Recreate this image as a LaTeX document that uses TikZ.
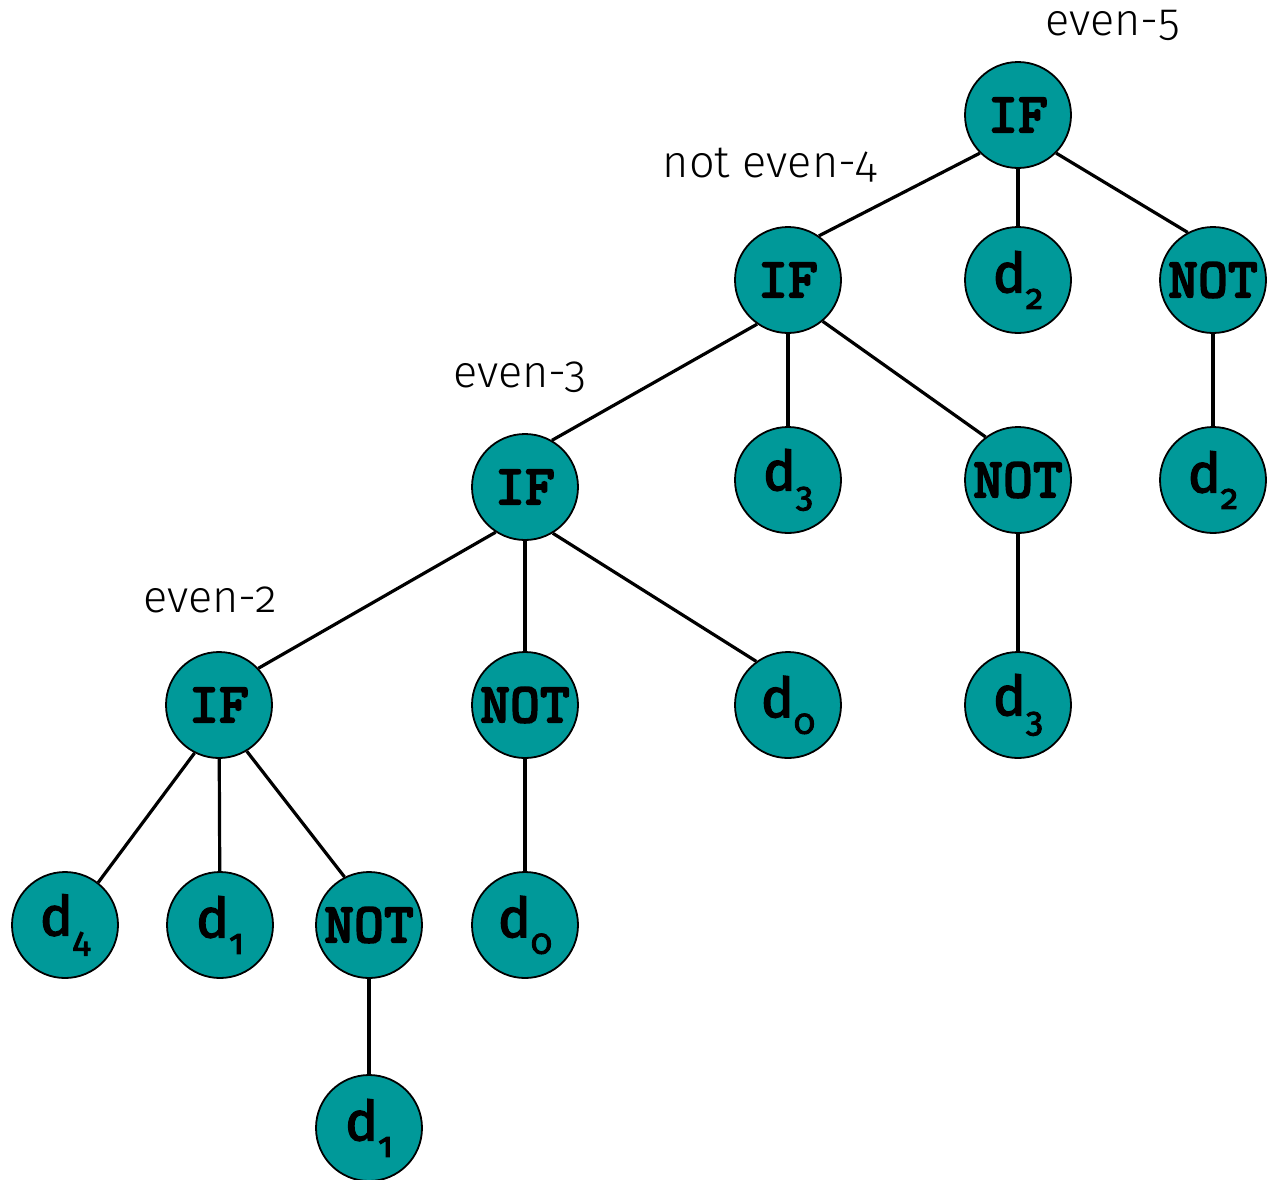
\documentclass[tikz,border=0pt]{standalone}
\usepackage{fontspec}
\setmainfont{Fira Sans}[Numbers=OldStyle]
\newfontfamily\lightfont{Fira Sans Light}[Numbers=OldStyle]
\newfontfamily\dfont{Fira Sans}[Numbers=OldStyle,FakeBold=2.5]
\newfontfamily\codefont{lmmonolt10-bold.otf}[FakeBold=2.5]
\definecolor{teal}{RGB}{0,153,153}
\newcommand{\dvar}[1]{\dfont\fontsize{55}{55}\selectfont d\raisebox{-0.3em}{\fontsize{35}{35}\selectfont #1}}
\begin{document}
\begin{tikzpicture}[x=1pt,y=-1pt,
  tnode/.style={circle,draw=black,line width=1.8pt,fill=teal,minimum size=106pt,inner sep=0pt},
  opnode/.style={tnode,font=\codefont\fontsize{57}{57}\selectfont},
  varnode/.style={tnode},
  lab/.style={font=\lightfont\fontsize{45}{45}\selectfont,inner sep=0pt},
  edge/.style={line width=3.2pt}]
\useasboundingbox (0,0) rectangle (1268,1179);
% nodes
\node[opnode] (r)  at (1018,115) {IF};
\node[opnode] (a)  at (788,280) {IF};
\node[varnode] (b) at (1018,280) {\dvar{2}};
\node[opnode] (c)  at (1213,280) {NOT};
\node[opnode] (a1) at (525,487) {IF};
\node[varnode] (a2) at (788,480) {\dvar{3}};
\node[opnode] (a3) at (1018,480) {NOT};
\node[varnode] (c1) at (1213,480) {\dvar{2}};
\node[opnode] (e)  at (219,705) {IF};
\node[opnode] (f)  at (525,705) {NOT};
\node[varnode] (g) at (788,705) {\dvar{0}};
\node[varnode] (a31) at (1018,705) {\dvar{3}};
\node[varnode] (e1) at (65,925) {\dvar{4}};
\node[varnode] (e2) at (220,925) {\dvar{1}};
\node[opnode] (e3) at (369,925) {NOT};
\node[varnode] (f1) at (525,925) {\dvar{0}};
\node[varnode] (e31) at (369,1128) {\dvar{1}};
% labels
\node[lab] (l5) at (1113,25) {even-5};
\node[lab] (l4) at (770,165) {not even-4};
\node[lab] (l3) at (520,377) {even-3};
\node[lab] (l2) at (210,600) {even-2};
% edges
\draw[edge] (r.225) -- (a.55);
\draw[edge] (r) -- (b);
\draw[edge] (r.315) -- (c.118);
\draw[edge] (a.235) -- (a1.60);
\draw[edge] (a) -- (a2);
\draw[edge] (a.310) -- (a3.127);
\draw[edge] (c) -- (c1);
\draw[edge] (a1.237) -- (e.43);
\draw[edge] (a1) -- (f);
\draw[edge] (a1.301) -- (g.126);
\draw[edge] (a3) -- (a31);
\draw[edge] (e.243) -- (e1.52);
\draw[edge] (e) -- (e2);
\draw[edge] (e.301) -- (e3.117);
\draw[edge] (f) -- (f1);
\draw[edge] (e3) -- (e31);
\end{tikzpicture}
\end{document}
